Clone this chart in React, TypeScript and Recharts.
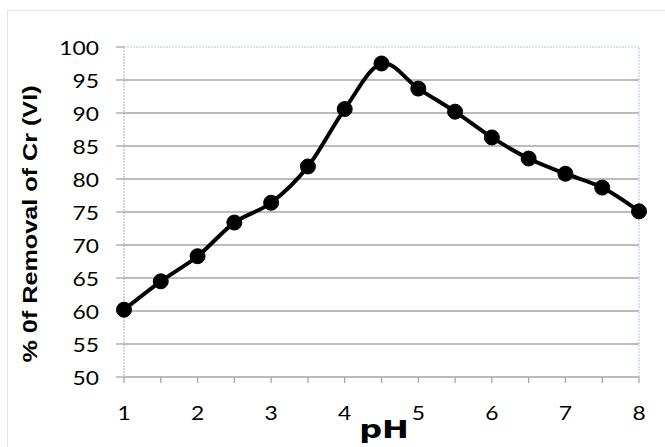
import React from 'react';
import { LineChart, Line, XAxis, YAxis, CartesianGrid, ReferenceLine, Customized } from 'recharts';

const phValues = [1, 1.5, 2, 2.5, 3, 3.5, 4, 4.5, 5, 5.5, 6, 6.5, 7, 7.5, 8];
const removal = [60.2, 64.5, 68.3, 73.4, 76.4, 81.9, 90.6, 97.5, 93.7, 90.2, 86.3, 83.1, 80.8, 78.7, 75.1];
const xTicks = [1, 1.5, 2, 2.5, 3, 3.5, 4, 4.5, 5, 5.5, 6, 6.5, 7, 7.5, 8];
const yTicks = [50, 55, 60, 65, 70, 75, 80, 85, 90, 95, 100];
const gridValues = [55, 60, 65, 70, 75, 80, 85, 90, 95];
const xTitle = 'pH';
const yTitle = '% 0f Removal of Cr (VI)';

const data = phValues.map((ph, i) => ({ ph, removal: removal[i] }));

// Catmull-Rom style (cardinal, tension 0) curve, like spreadsheet smoothed lines
function smoothCurve(context: any) {
  const k = 1 / 6;
  let x0 = NaN, y0 = NaN, x1 = NaN, y1 = NaN, x2 = NaN, y2 = NaN;
  let pt = 0;
  let line: number = NaN;
  const seg = (x: number, y: number) => {
    context.bezierCurveTo(
      x1 + k * (x2 - x0),
      y1 + k * (y2 - y0),
      x2 + k * (x1 - x),
      y2 + k * (y1 - y),
      x2,
      y2
    );
  };
  return {
    areaStart() { line = 0; },
    areaEnd() { line = NaN; },
    lineStart() { x0 = x1 = x2 = y0 = y1 = y2 = NaN; pt = 0; },
    lineEnd() {
      switch (pt) {
        case 2: context.lineTo(x2, y2); break;
        case 3: seg(x1, y1); break;
      }
      if (line || (line !== 0 && pt === 1)) context.closePath();
      line = 1 - line;
    },
    point(x: number, y: number) {
      x = +x; y = +y;
      switch (pt) {
        case 0: pt = 1; line ? context.lineTo(x, y) : context.moveTo(x, y); break;
        case 1: pt = 2; x1 = x; y1 = y; break;
        case 2: pt = 3; seg(x, y); break;
        default: seg(x, y); break;
      }
      x0 = x1; x1 = x2; x2 = x;
      y0 = y1; y1 = y2; y2 = y;
    },
  };
}

const TICK_FONT = 'Lato, sans-serif';

const XTick = (props: any) => {
  const { x, y, payload } = props;
  const v = payload.value;
  if (!Number.isInteger(v)) return <g />;
  return (
    <text
      transform={`translate(${x},${y + 35}) scale(1.2,1)`}
      textAnchor="middle"
      fontFamily={TICK_FONT}
      fontSize={19}
      fill="#000"
    >
      {String(v)}
    </text>
  );
};

const YTick = (props: any) => {
  const { x, y, payload } = props;
  return (
    <text
      transform={`translate(${x},${y + 8}) scale(1.2,1)`}
      textAnchor="end"
      fontFamily={TICK_FONT}
      fontSize={19}
      fill="#000"
    >
      {String(payload.value)}
    </text>
  );
};

const Titles = () => (
  <g>
    <text
      transform="translate(37,224) rotate(-90) scale(1.26,1)"
      textAnchor="middle"
      fontFamily="'Liberation Sans', Arial, sans-serif"
      fontWeight="bold"
      fontSize={20}
      fill="#000"
    >
      {yTitle}
    </text>
    <text
      transform="translate(384,438) scale(1.28,1)"
      textAnchor="middle"
      fontFamily="'DejaVu Sans', 'Liberation Sans', sans-serif"
      fontWeight="bold"
      fontSize={25}
      fill="#000"
    >
      {xTitle}
    </text>
  </g>
);

export default function App() {
  return (
    <div style={{ position: 'absolute', left: 0, top: 0, width: 665, height: 447, background: '#fff', overflow: 'hidden' }}>
      <div style={{ position: 'absolute', left: 7, top: 10, width: 680, height: 460, border: '1px solid #e2e2f0' }} />
      <div style={{ position: 'absolute', left: 0, top: 0 }}>
        <LineChart width={665} height={447} data={data} margin={{ top: 47, right: 26, left: 64, bottom: 30 }}>
          <CartesianGrid horizontal={true} vertical={false} horizontalValues={gridValues} stroke="#a6a6a6" strokeWidth={1.3} />
          <XAxis
            dataKey="ph"
            type="number"
            domain={[1, 8]}
            ticks={xTicks}
            interval={0}
            axisLine={{ stroke: '#a6a6a6', strokeWidth: 1.3 }}
            tickLine={{ stroke: '#a6a6a6', strokeWidth: 1.3 }}
            tickSize={6}
            tickMargin={2}
            tick={<XTick />}
            height={40}
          />
          <YAxis
            type="number"
            domain={[50, 100]}
            ticks={yTicks}
            interval={0}
            axisLine={{ stroke: '#9fb0c8', strokeDasharray: '2 1' }}
            tickLine={{ stroke: '#a6a6a6', strokeWidth: 1.3 }}
            tickSize={8}
            tickMargin={17}
            tick={<YTick />}
            width={60}
          />
          <ReferenceLine y={100} stroke="#a9c4e4" strokeDasharray="2 1" ifOverflow="visible" />
          <ReferenceLine x={8} stroke="#a9c4e4" strokeDasharray="2 1" ifOverflow="visible" />
          <Line
            dataKey="removal"
            type={smoothCurve as any}
            stroke="#000"
            strokeWidth={4}
            dot={{ r: 7.5, fill: '#000', stroke: '#000', strokeWidth: 1 }}
            isAnimationActive={false}
          />
          <Customized component={Titles} />
        </LineChart>
      </div>
    </div>
  );
}
